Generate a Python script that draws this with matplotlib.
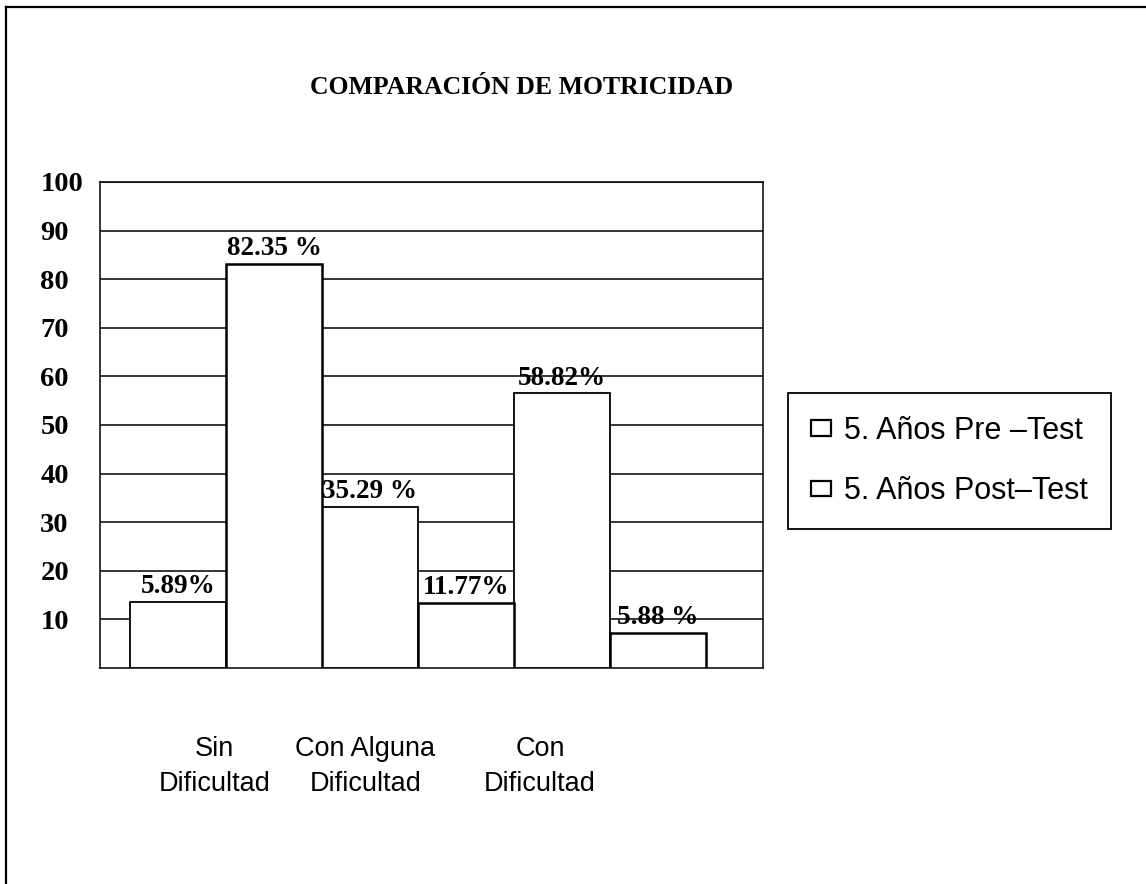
#!/usr/bin/env python3
"""
Comparación de motricidad - bar chart (pre-test vs post-test, 5 años)
Rebuilds the scanned chart and saves it as out.png
"""

import matplotlib
matplotlib.use('Agg')
import matplotlib.pyplot as plt
from matplotlib.patches import Patch
from matplotlib.lines import Line2D

# Categories (two-line labels as in the original)
categories = ["Sin\nDificultad", "Con Alguna\nDificultad", "Con\nDificultad"]

# Bar heights as drawn in the picture (scale 0-100)
pre_test = [13.6, 33.2, 56.5]
post_test = [83.1, 13.4, 7.3]

# Value labels written above each bar
pre_labels = ["5.89%", "35.29 %", "58.82%"]
post_labels = ["82.35 %", "11.77%", "5.88 %"]

series_names = ["5. Años Pre \u2013Test", "5. Años Post\u2013Test"]
y_ticks = [10, 20, 30, 40, 50, 60, 70, 80, 90, 100]

SERIF = ['Liberation Serif', 'DejaVu Serif']
SANS = ['Liberation Sans', 'DejaVu Sans']


def main():
    """Draw the chart"""
    W, H = 1146, 884
    fig = plt.figure(figsize=(W / 100, H / 100), dpi=100)
    fig.patch.set_facecolor('white')

    # plot box in pixels: left 100, right 763, top 182, bottom 668
    ax = fig.add_axes([100 / W, 1 - 668 / H, 663 / W, 486 / H])

    # one unit per bar, pre/post bars side by side with no gap
    pre_x = [2 * i for i in range(len(categories))]
    post_x = [2 * i + 1 for i in range(len(categories))]

    bars_pre = ax.bar(pre_x, pre_test, width=1, align='edge', color='white',
                      edgecolor='black', linewidth=1.3, zorder=3)
    bars_post = ax.bar(post_x, post_test, width=1, align='edge', color='white',
                       edgecolor='black', linewidth=1.8, zorder=3)

    for bars, labels in ((bars_pre, pre_labels), (bars_post, post_labels)):
        for bar, txt in zip(bars, labels):
            ax.annotate(txt, (bar.get_x() + bar.get_width() / 2, bar.get_height()),
                        xytext=(0, 2), textcoords='offset points',
                        ha='center', va='bottom', fontsize=19.5,
                        fontweight='bold', family=SERIF, zorder=4)

    ax.set_xlim(-0.3125, 6.594)
    ax.set_ylim(0, 100)

    # y axis: bold serif numbers, left aligned far from the box
    ax.set_yticks(y_ticks)
    ax.set_yticklabels([str(v) for v in y_ticks], fontsize=20.5,
                       fontweight='bold', family=SERIF)
    for lbl in ax.get_yticklabels():
        lbl.set_horizontalalignment('left')
    ax.tick_params(axis='y', length=0, pad=43)
    ax.set_xticks([])

    ax.yaxis.grid(True, color='black', linewidth=1.1, zorder=0)
    ax.set_axisbelow(True)
    for sp in ax.spines.values():
        sp.set_color('black')
        sp.set_linewidth(1.1)

    # category labels under the box, shifted a bit left like the original
    shifts = [-0.12, -0.55, -0.73]
    for i, cat in enumerate(categories):
        ax.text(2 * i + 1 + shifts[i], -0.139, cat,
                transform=ax.get_xaxis_transform(),
                ha='center', va='top', fontsize=19.5, family=SANS,
                linespacing=1.45, multialignment='center')

    # title
    fig.text(522 / W, 1 - 87 / H, "COMPARACIÓN DE MOTRICIDAD",
             ha='center', va='center', fontsize=18.5, fontweight='bold',
             family=SERIF)

    # legend box on the right
    handles = [Patch(facecolor='white', edgecolor='black', linewidth=1.6)
               for _ in series_names]
    leg = fig.legend(handles, series_names, loc='upper left',
                     bbox_to_anchor=(788 / W, 1 - 393 / H),
                     prop={'family': SANS, 'size': 22},
                     frameon=True, fancybox=False, framealpha=1,
                     edgecolor='black', borderpad=0.75, labelspacing=1.0,
                     handlelength=0.66, handleheight=0.42, handletextpad=0.42,
                     borderaxespad=0)
    leg.get_frame().set_linewidth(1.3)

    # outer frame of the scanned page (left and top edges only visible)
    fig.add_artist(Line2D([6 / W, 6 / W], [0, 1 - 7 / H], color='black',
                          linewidth=1.6, transform=fig.transFigure))
    fig.add_artist(Line2D([6 / W, 1], [1 - 7 / H, 1 - 7 / H], color='black',
                          linewidth=1.6, transform=fig.transFigure))

    fig.savefig('out.png', dpi=100, facecolor='white')
    plt.close(fig)


if __name__ == "__main__":
    main()
